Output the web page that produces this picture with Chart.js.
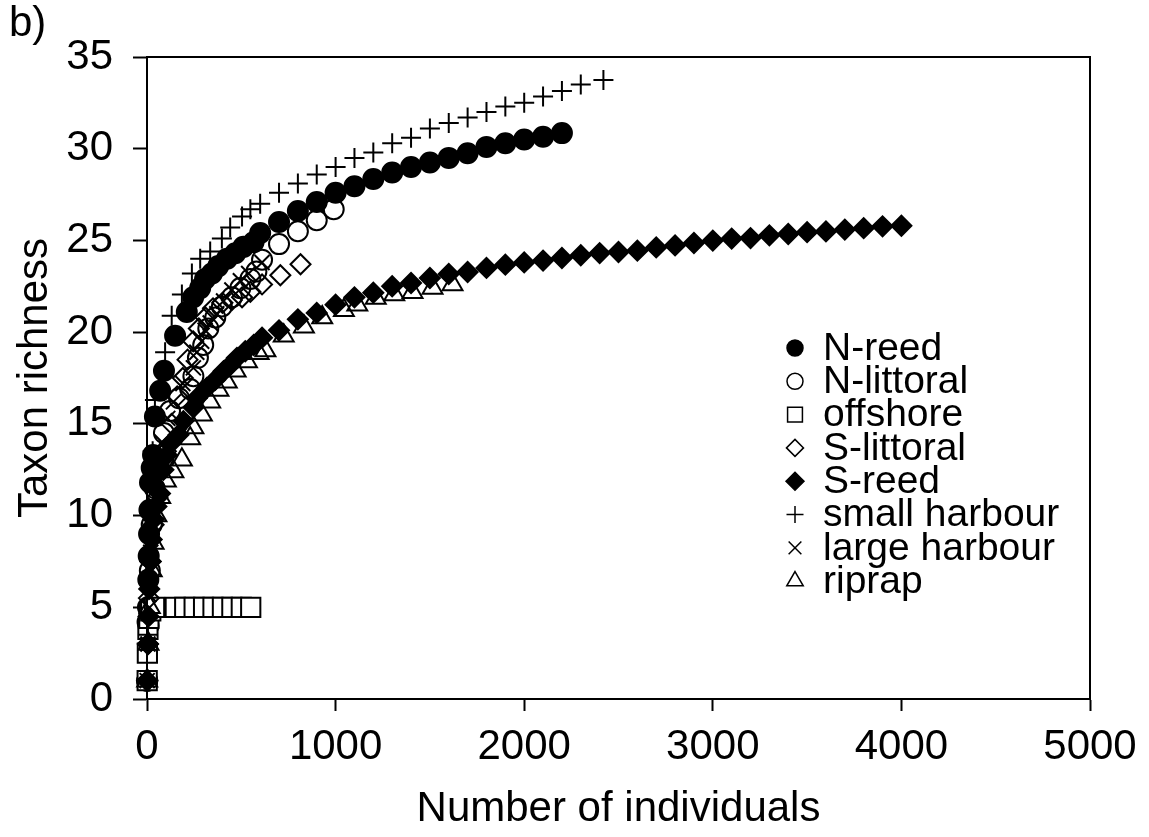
<!DOCTYPE html>
<html><head><meta charset="utf-8">
<script src="https://cdn.jsdelivr.net/npm/chart.js@4.4.1/dist/chart.umd.min.js"></script>
<style>html,body{margin:0;padding:0;background:#fff;}#wrap{width:1149px;height:837px;position:relative;}</style>
</head><body><div id="wrap"><canvas id="c" width="1149" height="837"></canvas></div>
<script>
// ---- data ----
const seriesNames = ['N-reed','N-littoral','offshore','S-littoral','S-reed','small harbour','large harbour','riprap'];
const xTicks = [0,1000,2000,3000,4000,5000];
const yTicks = [0,5,10,15,20,25,30,35];

const nReedX = [1,3,5,7,9,11,13,16,25,32,42,70,90,149,211,245,282,308,344,378,424,468,511,565,600,700,800,900,1000,1100,1200,1300,1400,1500,1600,1700,1800,1900,2000,2100,2200];
const nReedY = [1,4.2,5,6.5,7.8,9,10.3,11.8,12.6,13.3,15.4,16.8,17.9,19.8,21.1,21.9,22.4,22.9,23.2,23.6,24.0,24.3,24.65,24.9,25.4,26.0,26.6,27.1,27.6,27.95,28.35,28.7,29.0,29.25,29.5,29.75,30.1,30.3,30.5,30.65,30.85];

const nLittoralX = [1,8,15,25,40,60,90,122,170,229,246,270,298,325,362,397,450,495,548,580,610,700,800,900,990];
const nLittoralY = [1,4,7,9.5,11.5,13,14.5,15.7,16.4,16.9,17.6,18.6,19.3,20.2,20.8,21.4,21.9,22.4,22.9,23.3,23.95,24.8,25.5,26.1,26.7];

const offshoreX = [1,2,5,10,20,40,150,200,250,300,350,400,450,500,550];
const offshoreY = [1,2.5,3.8,4.4,4.8,5,5,5,5,5,5,5,5,5,5];

const sLittoralX = [1,5,10,20,35,55,75,100,130,160,190,215,245,275,310,350,400,450,504,548,610,707,814];
const sLittoralY = [1,3,5.5,7.5,9.5,11,12.5,13.5,15,16.5,17.5,18.5,19.5,20.2,20.8,21.3,21.6,21.75,21.9,22.2,22.6,23.1,23.7];

const sReedX = [1,5,8,12,18,25,35,50,69,87,105,122,167,193,246,264,317,362,406,441,477,521,566,610,700,800,900,1000,1100,1200,1300,1400,1500,1600,1700,1800,1900,2000,2100,2200,2300,2400,2500,2600,2700,2800,2900,3000,3100,3200,3300,3400,3500,3600,3700,3800,3900,4000];
const sReedY = [1,3,4.5,6,7.5,8.7,9.8,10.5,11.2,12.5,13.3,13.9,14.4,15.15,15.9,16.4,16.96,17.4,17.87,18.2,18.6,18.96,19.3,19.7,20.1,20.7,21.05,21.5,21.9,22.15,22.5,22.68,22.95,23.17,23.28,23.5,23.68,23.8,23.9,24.04,24.19,24.31,24.37,24.44,24.62,24.73,24.86,24.99,25.1,25.13,25.28,25.35,25.45,25.49,25.59,25.67,25.77,25.8];

const smallHarbourX = [1,5,10,20,30,42,96,131,185,238,282,335,397,441,504,548,600,700,800,900,1000,1100,1200,1300,1400,1500,1600,1700,1800,1900,2000,2100,2200,2300,2420];
const smallHarbourY = [1,3.5,6,10,13.5,16.3,18.9,20.9,22.05,23.2,24.0,24.4,25.1,25.7,26.3,26.7,27.0,27.6,28.1,28.6,29.0,29.5,29.8,30.3,30.6,31.1,31.4,31.7,32.0,32.3,32.5,32.85,33.15,33.5,33.75];

const largeHarbourX = [1,5,10,20,35,55,80,110,140,190,246,264,290,308,335,370,406,450,495,539,610];
const largeHarbourY = [1,3,5.7,8,10,12,14,15.3,16.2,17.2,18.05,18.9,19.5,20.1,20.5,21.0,21.7,22.3,22.8,23.2,23.8];

const riprapX = [1,8,15,25,35,50,70,100,140,185,229,246,291,335,379,423,470,530,592,628,725,832,929,1044,1115,1213,1311,1408,1514,1620];
const riprapY = [1,3,5,7,8.5,10,11,11.9,12.4,13.05,14.2,14.8,15.5,16.2,16.85,17.3,17.9,18.4,18.85,19.0,19.8,20.3,20.8,21.2,21.5,21.86,22.05,22.17,22.4,22.6];

// ---- styles ----
const FONT = '"Liberation Sans", Arial, sans-serif';
const seriesX = [nReedX,nLittoralX,offshoreX,sLittoralX,sReedX,smallHarbourX,largeHarbourX,riprapX];
const seriesY = [nReedY,nLittoralY,offshoreY,sLittoralY,sReedY,smallHarbourY,largeHarbourY,riprapY];
const markerStyle = [
  {style:'circle', r:10, fill:'#000'},
  {style:'circle', r:10, fill:'rgba(0,0,0,0)'},
  {style:'rect', r:13.6, fill:'#fff'},
  {style:'rectRot', r:10, fill:'rgba(0,0,0,0)'},
  {style:'rectRot', r:10, fill:'#000'},
  {style:'cross', r:10, fill:'rgba(0,0,0,0)'},
  {style:'crossRot', r:10.6, fill:'rgba(0,0,0,0)'},
  {style:'triangle', r:11.5, fill:'rgba(0,0,0,0)'}
];
const legendMarker = [
  {style:'circle', r:8, fill:'#000'},
  {style:'circle', r:8, fill:'#fff'},
  {style:'rect', r:10.5, fill:'#fff'},
  {style:'rectRot', r:8.5, fill:'#fff'},
  {style:'rectRot', r:9, fill:'#000'},
  {style:'cross', r:8.5, fill:'#fff'},
  {style:'crossRot', r:9, fill:'#fff'},
  {style:'triangle', r:9.5, fill:'#fff'}
];

const datasets = seriesNames.map((name,i)=>({
  label: name,
  data: seriesX[i].map((x,j)=>({x:x, y:seriesY[i][j]})),
  showLine: false,
  pointStyle: markerStyle[i].style,
  pointRadius: markerStyle[i].r,
  pointHoverRadius: markerStyle[i].r,
  pointBackgroundColor: markerStyle[i].fill,
  pointBorderColor: '#000',
  pointBorderWidth: 2,
  clip: false,
  order: 20 - i
}));

const framePlugin = {
  id: 'frame',
  afterDraw(chart){
    const {ctx, chartArea:a} = chart;
    ctx.save();
    ctx.strokeStyle = '#000'; ctx.lineWidth = 2;
    ctx.strokeRect(a.left, a.top, a.right - a.left, a.bottom - a.top);
    // panel label
    ctx.fillStyle = '#000';
    ctx.font = '42px ' + FONT;
    ctx.textBaseline = 'alphabetic';
    ctx.textAlign = 'left';
    ctx.fillText('b)', 9, 36);
    // legend
    const lx = 795, tx = 823, y0 = 348, dy = 33.3;
    ctx.font = '39px ' + FONT;
    ctx.textBaseline = 'middle';
    seriesNames.forEach((name,i)=>{
      const y = y0 + i*dy;
      const m = legendMarker[i];
      ctx.fillStyle = m.fill; ctx.strokeStyle = '#000'; ctx.lineWidth = 1.5;
      Chart.helpers.drawPoint(ctx, {pointStyle:m.style, radius:m.r, rotation:0, borderWidth:1.5}, lx, y);
      ctx.fillStyle = '#000';
      ctx.fillText(name, tx, y + 1);
    });
    ctx.restore();
  }
};

new Chart(document.getElementById('c'), {
  type: 'scatter',
  data: { datasets },
  options: {
    responsive: false,
    animation: false,
    devicePixelRatio: 1,
    layout: { padding: { top: 57, right: 59, bottom: 0, left: 0 } },
    plugins: { legend: { display: false }, tooltip: { enabled: false } },
    scales: {
      x: {
        type: 'linear', min: 0, max: 5000,
        afterBuildTicks: s => { s.ticks = xTicks.map(v => ({value: v})); },
        ticks: { color: '#000', font: { family: FONT, size: 42 }, padding: 11, maxRotation: 0, callback: v => String(v) },
        grid: { display: true, drawOnChartArea: false, drawTicks: true, tickLength: 12, tickColor: '#000', tickWidth: 2 },
        border: { display: true, color: '#000', width: 2 },
        title: { display: true, text: 'Number of individuals', color: '#000', font: { family: FONT, size: 42 }, padding: { top: 0, bottom: 2 } },
        afterFit: s => { s.height = 138; }
      },
      y: {
        type: 'linear', min: 0, max: 35,
        afterBuildTicks: s => { s.ticks = yTicks.map(v => ({value: v})); },
        ticks: { color: '#000', font: { family: FONT, size: 42 }, padding: 20, callback: v => String(v) },
        grid: { display: true, drawOnChartArea: false, drawTicks: true, tickLength: 14, tickColor: '#000', tickWidth: 2 },
        border: { display: true, color: '#000', width: 2 },
        title: { display: true, text: 'Taxon richness', color: '#000', font: { family: FONT, size: 42 }, padding: { top: 10, bottom: 0 } },
        afterFit: s => { s.width = 147; }
      }
    }
  },
  plugins: [framePlugin]
});
</script></body></html>
